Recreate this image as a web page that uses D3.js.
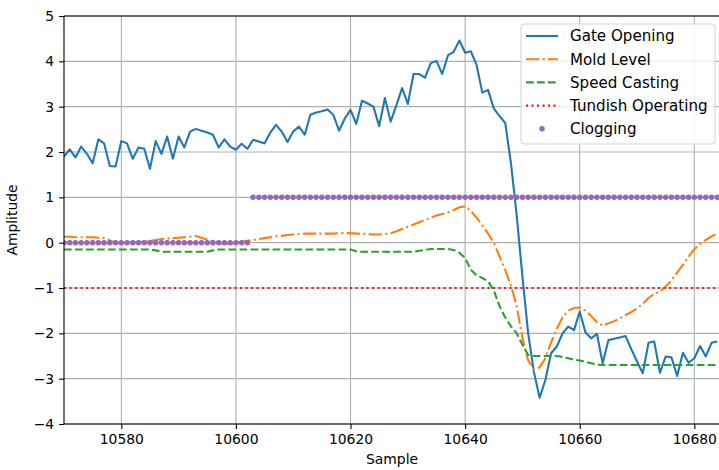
<!DOCTYPE html>
<html>
<head>
<meta charset="utf-8">
<script src="https://cdn.jsdelivr.net/npm/d3@7"></script>
<style>
  body { margin: 0; background: #fff; }
  text { font-family: "DejaVu Sans", sans-serif; }
</style>
</head>
<body>
<div id="chart"></div>
<script>
// data, one value per sample starting at 10570
const firstSample = 10570;

const gateOpening = [
  1.90, 2.06, 1.88, 2.12, 1.96, 1.75, 2.28, 2.19, 1.69, 1.68,
  2.24, 2.19, 1.85, 2.10, 2.07, 1.63, 2.24, 1.96, 2.34, 1.85,
  2.34, 2.10, 2.45, 2.51, 2.47, 2.43, 2.38, 2.10, 2.28, 2.12,
  2.05, 2.18, 2.07, 2.27, 2.23, 2.19, 2.43, 2.60, 2.45, 2.22,
  2.45, 2.56, 2.38, 2.82, 2.87, 2.90, 2.94, 2.82, 2.47, 2.74,
  2.93, 2.62, 3.13, 3.07, 3.00, 2.57, 3.19, 2.67, 3.03, 3.41,
  3.06, 3.72, 3.72, 3.64, 3.96, 4.01, 3.72, 4.13, 4.21, 4.46,
  4.19, 4.22, 3.92, 3.31, 3.37, 2.96, 2.79, 2.64, 1.75, 0.60,
  -0.75, -2.00, -2.85, -3.42, -3.03, -2.44, -2.29, -2.00, -1.85, -1.93,
  -1.52, -1.98, -2.11, -2.01, -2.66, -2.15, -2.12, -2.09, -2.06, -2.35,
  -2.62, -2.88, -2.21, -2.18, -2.87, -2.51, -2.53, -2.94, -2.43, -2.65,
  -2.55, -2.28, -2.51, -2.21, -2.18
];

const moldLevel = [
  0.13, 0.13, 0.12, 0.12, 0.12, 0.12, 0.11, 0.10, 0.05, 0.00,
  0.00, 0.00, 0.00, 0.01, 0.02, 0.04, 0.06, 0.08, 0.09, 0.10,
  0.11, 0.12, 0.13, 0.15, 0.11, 0.07, 0.03, 0.00, -0.03, -0.02,
  0.00, 0.02, 0.04, 0.06, 0.08, 0.10, 0.12, 0.14, 0.15, 0.17,
  0.18, 0.19, 0.20, 0.20, 0.20, 0.20, 0.20, 0.20, 0.21, 0.21,
  0.21, 0.20, 0.20, 0.19, 0.18, 0.18, 0.19, 0.21, 0.25, 0.30,
  0.35, 0.40, 0.45, 0.50, 0.55, 0.60, 0.63, 0.67, 0.72, 0.78,
  0.80, 0.70, 0.55, 0.38, 0.20, 0.00, -0.30, -0.60, -0.95, -1.40,
  -2.10, -2.60, -2.80, -2.75, -2.55, -2.20, -1.90, -1.65, -1.50, -1.44,
  -1.43, -1.50, -1.62, -1.75, -1.83, -1.78, -1.73, -1.67, -1.60, -1.53,
  -1.45, -1.35, -1.22, -1.13, -1.08, -0.97, -0.83, -0.66, -0.49, -0.31,
  -0.14, -0.03, 0.06, 0.14, 0.20
];

const speedCasting = [
  -0.15, -0.15, -0.15, -0.15, -0.15, -0.15, -0.15, -0.15, -0.15, -0.15,
  -0.15, -0.15, -0.15, -0.15, -0.15, -0.15, -0.17, -0.20, -0.20, -0.20,
  -0.20, -0.20, -0.20, -0.20, -0.20, -0.20, -0.17, -0.15, -0.15, -0.15,
  -0.15, -0.15, -0.15, -0.15, -0.15, -0.15, -0.15, -0.15, -0.15, -0.15,
  -0.15, -0.15, -0.15, -0.15, -0.15, -0.15, -0.15, -0.15, -0.15, -0.15,
  -0.15, -0.19, -0.20, -0.20, -0.20, -0.20, -0.20, -0.20, -0.20, -0.20,
  -0.20, -0.20, -0.18, -0.16, -0.14, -0.14, -0.14, -0.14, -0.16, -0.22,
  -0.34, -0.60, -0.72, -0.78, -0.85, -1.05, -1.40, -1.65, -1.85, -2.00,
  -2.25, -2.48, -2.50, -2.50, -2.50, -2.50, -2.50, -2.52, -2.55, -2.58,
  -2.60, -2.63, -2.66, -2.69, -2.70, -2.70, -2.70, -2.70, -2.70, -2.70,
  -2.70, -2.70, -2.70, -2.70, -2.70, -2.70, -2.70, -2.70, -2.70, -2.70,
  -2.70, -2.70, -2.70, -2.70, -2.70
];

const tundishOperating = [
  -1, -1, -1, -1, -1, -1, -1, -1, -1, -1, -1, -1, -1, -1, -1, -1, -1, -1, -1, -1,
  -1, -1, -1, -1, -1, -1, -1, -1, -1, -1, -1, -1, -1, -1, -1, -1, -1, -1, -1, -1,
  -1, -1, -1, -1, -1, -1, -1, -1, -1, -1, -1, -1, -1, -1, -1, -1, -1, -1, -1, -1,
  -1, -1, -1, -1, -1, -1, -1, -1, -1, -1, -1, -1, -1, -1, -1, -1, -1, -1, -1, -1,
  -1, -1, -1, -1, -1, -1, -1, -1, -1, -1, -1, -1, -1, -1, -1, -1, -1, -1, -1, -1,
  -1, -1, -1, -1, -1, -1, -1, -1, -1, -1, -1, -1, -1, -1, -1
];

const clogging = [
  0, 0, 0, 0, 0, 0, 0, 0, 0, 0, 0, 0, 0, 0, 0, 0, 0, 0, 0, 0,
  0, 0, 0, 0, 0, 0, 0, 0, 0, 0, 0, 0, 0, 1, 1, 1, 1, 1, 1, 1,
  1, 1, 1, 1, 1, 1, 1, 1, 1, 1, 1, 1, 1, 1, 1, 1, 1, 1, 1, 1,
  1, 1, 1, 1, 1, 1, 1, 1, 1, 1, 1, 1, 1, 1, 1, 1, 1, 1, 1, 1,
  1, 1, 1, 1, 1, 1, 1, 1, 1, 1, 1, 1, 1, 1, 1, 1, 1, 1, 1, 1,
  1, 1, 1, 1, 1, 1, 1, 1, 1, 1, 1, 1, 1, 1, 1
];

const xTicks = [10580, 10600, 10620, 10640, 10660, 10680];
const yTicks = [-4, -3, -2, -1, 0, 1, 2, 3, 4, 5];

const series = [
  {name: "Gate Opening", values: gateOpening, color: "#1f77b4", dash: null},
  {name: "Mold Level", values: moldLevel, color: "#ff7f0e", dash: "13.3,3.3,2.1,3.3"},
  {name: "Speed Casting", values: speedCasting, color: "#2ca02c", dash: "7.7,3.3"},
  {name: "Tundish Operating", values: tundishOperating, color: "#d62728", dash: "2.1,3.4"}
];

// set the dimensions and margins of the graph
const W = 719, H = 470;
const margin = {top: 16, right: -4, bottom: 46, left: 64},
  width = W - margin.left - margin.right,
  height = H - margin.top - margin.bottom;

const svg = d3.select("#chart")
.append("svg")
  .attr("width", W)
  .attr("height", H)
.append("g")
  .attr("transform", "translate(" + margin.left + "," + margin.top + ")");

const x = d3.scaleLinear().domain([10570, 10685]).range([0, width]);
const y = d3.scaleLinear().domain([-4, 5]).range([height, 0]);

// grid
svg.append("g").selectAll("line")
  .data(xTicks).join("line")
  .attr("x1", d => x(d)).attr("x2", d => x(d))
  .attr("y1", 0).attr("y2", height)
  .attr("stroke", "#b0b0b0").attr("stroke-width", 1.1);
svg.append("g").selectAll("line")
  .data(yTicks).join("line")
  .attr("x1", 0).attr("x2", width)
  .attr("y1", d => y(d)).attr("y2", d => y(d))
  .attr("stroke", "#b0b0b0").attr("stroke-width", 1.1);

const clip = svg.append("defs").append("clipPath")
  .attr("id", "clip")
  .append("rect")
  .attr("width", width).attr("height", height);

const plot = svg.append("g").attr("clip-path", "url(#clip)");

const line = d3.line()
  .x((d, i) => x(firstSample + i))
  .y(d => y(d));

series.forEach(s => {
  plot.append("path")
    .datum(s.values)
    .attr("fill", "none")
    .attr("stroke", s.color)
    .attr("stroke-width", 2.08)
    .attr("stroke-linejoin", "round")
    .attr("stroke-dasharray", s.dash)
    .attr("d", line);
});

// clogging drawn as point markers
plot.append("g").selectAll("circle")
  .data(clogging).join("circle")
  .attr("cx", (d, i) => x(firstSample + i))
  .attr("cy", d => y(d))
  .attr("r", 2.08)
  .attr("fill", "#9467bd")
  .attr("stroke", "#9467bd")
  .attr("stroke-width", 1.39);

// axes
const xAxis = svg.append("g")
  .attr("transform", "translate(0," + height + ")")
  .call(d3.axisBottom(x).tickValues(xTicks).tickFormat(d3.format("d")).tickSize(4.9).tickPadding(4.9));
const yAxis = svg.append("g")
  .call(d3.axisLeft(y).tickValues(yTicks).tickFormat(d => d < 0 ? "\u2212" + Math.abs(d) : d).tickSize(4.9).tickPadding(4.9));

[xAxis, yAxis].forEach(a => {
  a.select(".domain").remove();
  a.selectAll(".tick line").attr("stroke", "#000").attr("stroke-width", 1.1);
  a.selectAll(".tick text").attr("fill", "#000").style("font-size", "13.9px");
});

// spines
svg.append("line").attr("x1", 0).attr("x2", width).attr("y1", 0).attr("y2", 0)
  .attr("stroke", "#000").attr("stroke-width", 1.1);
svg.append("line").attr("x1", 0).attr("x2", width).attr("y1", height).attr("y2", height)
  .attr("stroke", "#000").attr("stroke-width", 1.1);
svg.append("line").attr("x1", 0).attr("x2", 0).attr("y1", 0).attr("y2", height)
  .attr("stroke", "#000").attr("stroke-width", 1.1);
svg.append("line").attr("x1", width).attr("x2", width).attr("y1", 0).attr("y2", height)
  .attr("stroke", "#000").attr("stroke-width", 1.1);

// labels
svg.append("text")
  .attr("x", (W - margin.left) / 2 + 0.5)
  .attr("y", height + 40)
  .attr("text-anchor", "middle")
  .style("font-size", "13.9px")
  .text("Sample");
svg.append("text")
  .attr("transform", "translate(" + (-47) + "," + (height / 2) + ") rotate(-90)")
  .attr("text-anchor", "middle")
  .style("font-size", "13.9px")
  .text("Amplitude");

// legend
const lg = svg.append("g").attr("transform", "translate(" + (521 - margin.left) + "," + (24 - margin.top) + ")");
lg.append("rect")
  .attr("width", 194).attr("height", 120)
  .attr("rx", 3)
  .attr("fill", "#fff").attr("fill-opacity", 0.8)
  .attr("stroke", "#d6d6d6").attr("stroke-width", 1.1);

const legendItems = series.concat([{name: "Clogging", color: "#9467bd", marker: true}]);
legendItems.forEach((s, i) => {
  const cy = 12 + i * 23.2;
  if (s.marker) {
    lg.append("circle")
      .attr("cx", 21).attr("cy", cy).attr("r", 2.08)
      .attr("fill", s.color).attr("stroke", s.color).attr("stroke-width", 1.39);
  } else {
    lg.append("line")
      .attr("x1", 5).attr("x2", 37).attr("y1", cy).attr("y2", cy)
      .attr("stroke", s.color).attr("stroke-width", 2.08)
      .attr("stroke-dasharray", s.dash);
  }
  lg.append("text")
    .attr("x", 49).attr("y", cy)
    .attr("dy", "0.36em")
    .style("font-size", "15.1px")
    .attr("fill", "#000")
    .text(s.name);
});
</script>
</body>
</html>
